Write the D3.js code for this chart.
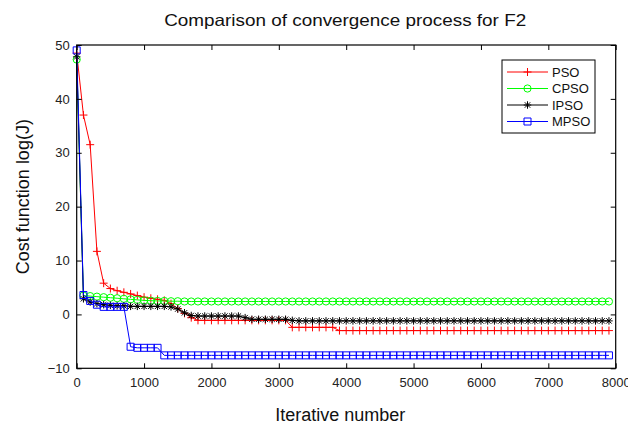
<!DOCTYPE html>
<html><head><meta charset="utf-8">
<script src="https://cdn.jsdelivr.net/npm/d3@7"></script>
<style>body{margin:0;background:#fff;} svg{display:block;font-family:"Liberation Sans",Arial,sans-serif;}</style>
</head><body>
<svg id="c" width="628" height="425"></svg>
<script>
// iterations sampled every 100
const iterations = d3.range(0, 8000, 100);
const seriesNames = ["PSO", "CPSO", "IPSO", "MPSO"];
const xTicks = [0, 1000, 2000, 3000, 4000, 5000, 6000, 7000, 8000];
const yTicks = [-10, 0, 10, 20, 30, 40, 50];

const pso = [48.5, 37.0, 31.5, 11.7, 5.8, 4.8, 4.4, 4.1, 3.8, 3.5,
  3.2, 3.0, 2.8, 2.6, 2.0, 1.1, 0.2, -0.6, -1.1, -1.1,
  -1.1, -1.1, -1.1, -1.1, -1.1, -1.1, -1.1, -1.1, -1.1, -1.1,
  -1.1, -1.1, -2.4, -2.4, -2.4, -2.4, -2.4, -2.4, -2.4, -3.0,
  -3.0, -3.0, -3.0, -3.0, -3.0, -3.0, -3.0, -3.0, -3.0, -3.0,
  -3.0, -3.0, -3.0, -3.0, -3.0, -3.0, -3.0, -3.0, -3.0, -3.0,
  -3.0, -3.0, -3.0, -3.0, -3.0, -3.0, -3.0, -3.0, -3.0, -3.0,
  -3.0, -3.0, -3.0, -3.0, -3.0, -3.0, -3.0, -3.0, -3.0, -3.0];
const cpso = [47.3, 3.5, 3.4, 3.3, 3.2, 3.1, 3.0, 2.9, 2.8, 2.7,
  2.6, 2.55, 2.5, 2.5, 2.45, 2.45, 2.4, 2.4, 2.4, 2.4,
  2.4, 2.4, 2.4, 2.4, 2.4, 2.4, 2.4, 2.4, 2.4, 2.4,
  2.4, 2.4, 2.4, 2.4, 2.4, 2.4, 2.4, 2.4, 2.4, 2.4,
  2.4, 2.4, 2.4, 2.4, 2.4, 2.4, 2.4, 2.4, 2.4, 2.4,
  2.4, 2.4, 2.4, 2.4, 2.4, 2.4, 2.4, 2.4, 2.4, 2.4,
  2.4, 2.4, 2.4, 2.4, 2.4, 2.4, 2.4, 2.4, 2.4, 2.4,
  2.4, 2.4, 2.4, 2.4, 2.4, 2.4, 2.4, 2.4, 2.4, 2.4];
const ipso = [47.8, 2.9, 2.3, 2.0, 1.8, 1.7, 1.6, 1.6, 1.5, 1.5,
  1.5, 1.5, 1.5, 1.5, 1.4, 1.0, 0.3, -0.2, -0.3, -0.3,
  -0.3, -0.3, -0.3, -0.3, -0.3, -0.6, -0.9, -0.9, -0.9, -0.9,
  -0.9, -0.9, -1.1, -1.2, -1.2, -1.2, -1.2, -1.2, -1.2, -1.2,
  -1.2, -1.2, -1.2, -1.2, -1.2, -1.2, -1.2, -1.2, -1.2, -1.2,
  -1.2, -1.2, -1.2, -1.2, -1.2, -1.2, -1.2, -1.2, -1.2, -1.2,
  -1.2, -1.2, -1.2, -1.2, -1.2, -1.2, -1.2, -1.2, -1.2, -1.2,
  -1.2, -1.2, -1.2, -1.2, -1.2, -1.2, -1.2, -1.2, -1.2, -1.2];
const mpso = [49.0, 3.6, 2.5, 1.8, 1.4, 1.4, 1.4, 1.4, -6.0, -6.2,
  -6.2, -6.2, -6.2, -7.6, -7.6, -7.6, -7.6, -7.6, -7.6, -7.6,
  -7.6, -7.6, -7.6, -7.6, -7.6, -7.6, -7.6, -7.6, -7.6, -7.6,
  -7.6, -7.6, -7.6, -7.6, -7.6, -7.6, -7.6, -7.6, -7.6, -7.6,
  -7.6, -7.6, -7.6, -7.6, -7.6, -7.6, -7.6, -7.6, -7.6, -7.6,
  -7.6, -7.6, -7.6, -7.6, -7.6, -7.6, -7.6, -7.6, -7.6, -7.6,
  -7.6, -7.6, -7.6, -7.6, -7.6, -7.6, -7.6, -7.6, -7.6, -7.6,
  -7.6, -7.6, -7.6, -7.6, -7.6, -7.6, -7.6, -7.6, -7.6, -7.6];

const values = [pso, cpso, ipso, mpso];
const colors = ["#ff0000", "#00ff00", "#000000", "#0000ff"];
const markers = ["plus", "circle", "star", "square"];

const L = 76.7, R = 615.7, T = 45, B = 368.3;
const svg = d3.select("#c");
const x = d3.scaleLinear().domain([0, 8000]).range([L, R]);
const y = d3.scaleLinear().domain([-10, 50]).range([B, T]);

function markerPath(type, s) {
  const h = s / 2;
  if (type === "plus") return `M${-h},0H${h}M0,${-h}V${h}`;
  if (type === "star") { const d = h * 0.72; return `M${-h},0H${h}M0,${-h}V${h}M${-d},${-d}L${d},${d}M${-d},${d}L${d},${-d}`; }
  if (type === "square") return `M${-h},${-h}H${h}V${h}H${-h}Z`;
  return null;
}
function drawMarker(g, type, color, cx, cy) {
  if (type === "circle") {
    g.append("circle").attr("cx", cx).attr("cy", cy).attr("r", 3.6)
      .attr("fill", "none").attr("stroke", color).attr("stroke-width", 1);
  } else {
    const s = type === "plus" ? 8 : (type === "star" ? 7.5 : 7);
    g.append("path").attr("d", markerPath(type, s)).attr("transform", `translate(${cx},${cy})`)
      .attr("fill", "none").attr("stroke", color).attr("stroke-width", 1);
  }
}

// axes
const xAxisB = d3.axisBottom(x).tickValues(xTicks).tickSizeInner(-5).tickSizeOuter(0).tickPadding(9).tickFormat(d3.format("d"));
const xAxisT = d3.axisTop(x).tickValues(xTicks).tickSizeInner(-5).tickSizeOuter(0).tickFormat("");
const yAxisL = d3.axisLeft(y).tickValues(yTicks).tickSizeInner(-5).tickSizeOuter(0).tickPadding(7);
const yAxisR = d3.axisRight(y).tickValues(yTicks).tickSizeInner(-5).tickSizeOuter(0).tickFormat("");

const plot = svg.append("g");
const line = d3.line().x((d, i) => x(iterations[i])).y(d => y(d));
values.forEach((vals, k) => {
  const g = plot.append("g");
  g.append("path").datum(vals).attr("d", line).attr("fill", "none")
    .attr("stroke", colors[k]).attr("stroke-width", 1);
  vals.forEach((v, i) => drawMarker(g, markers[k], colors[k], x(iterations[i]), y(v)));
});

function styleAxis(g) {
  g.selectAll(".domain").remove();
  g.selectAll("line").attr("stroke", "#000").attr("stroke-width", 1);
  g.selectAll("text").attr("font-size", 13).attr("fill", "#222")
   .attr("font-family", '"Liberation Sans",Arial,sans-serif');
}
svg.append("g").attr("transform", `translate(0,${B})`).call(xAxisB).call(styleAxis);
svg.append("g").attr("transform", `translate(0,${T})`).call(xAxisT).call(styleAxis);
svg.append("g").attr("transform", `translate(${L},0)`).call(yAxisL).call(styleAxis);
svg.append("g").attr("transform", `translate(${R},0)`).call(yAxisR).call(styleAxis);
svg.append("rect").attr("x", L).attr("y", T).attr("width", R - L).attr("height", B - T)
  .attr("fill", "none").attr("stroke", "#000").attr("stroke-width", 1.2);

// titles
svg.append("text").attr("x", (L + R) / 2 - 1).attr("y", 25.5).attr("text-anchor", "middle")
  .attr("font-size", 16.5).attr("fill", "#111")
  .attr("textLength", 362).attr("lengthAdjust", "spacingAndGlyphs")
  .text("Comparison of convergence process for F2");
svg.append("text").attr("x", (L + R) / 2 - 6).attr("y", 420.5).attr("text-anchor", "middle")
  .attr("font-size", 18).attr("fill", "#111").text("Iterative number");
svg.append("text").attr("transform", `translate(28.5,${(T + B) / 2 - 10}) rotate(-90)`).attr("text-anchor", "middle")
  .attr("font-size", 18).attr("fill", "#111").text("Cost function log(J)");

// legend
const lg = svg.append("g");
lg.append("rect").attr("x", 502).attr("y", 60).attr("width", 93).attr("height", 73)
  .attr("fill", "#fff").attr("stroke", "#000").attr("stroke-width", 1);
const ly = [72, 88.5, 105, 121.5];
seriesNames.forEach((n, k) => {
  lg.append("line").attr("x1", 507).attr("x2", 548).attr("y1", ly[k]).attr("y2", ly[k])
    .attr("stroke", colors[k]).attr("stroke-width", 1);
  drawMarker(lg, markers[k], colors[k], 527.5, ly[k]);
  lg.append("text").attr("x", 552).attr("y", ly[k] + 4.5).attr("font-size", 13).attr("fill", "#111").text(n);
});
</script>
</body></html>
